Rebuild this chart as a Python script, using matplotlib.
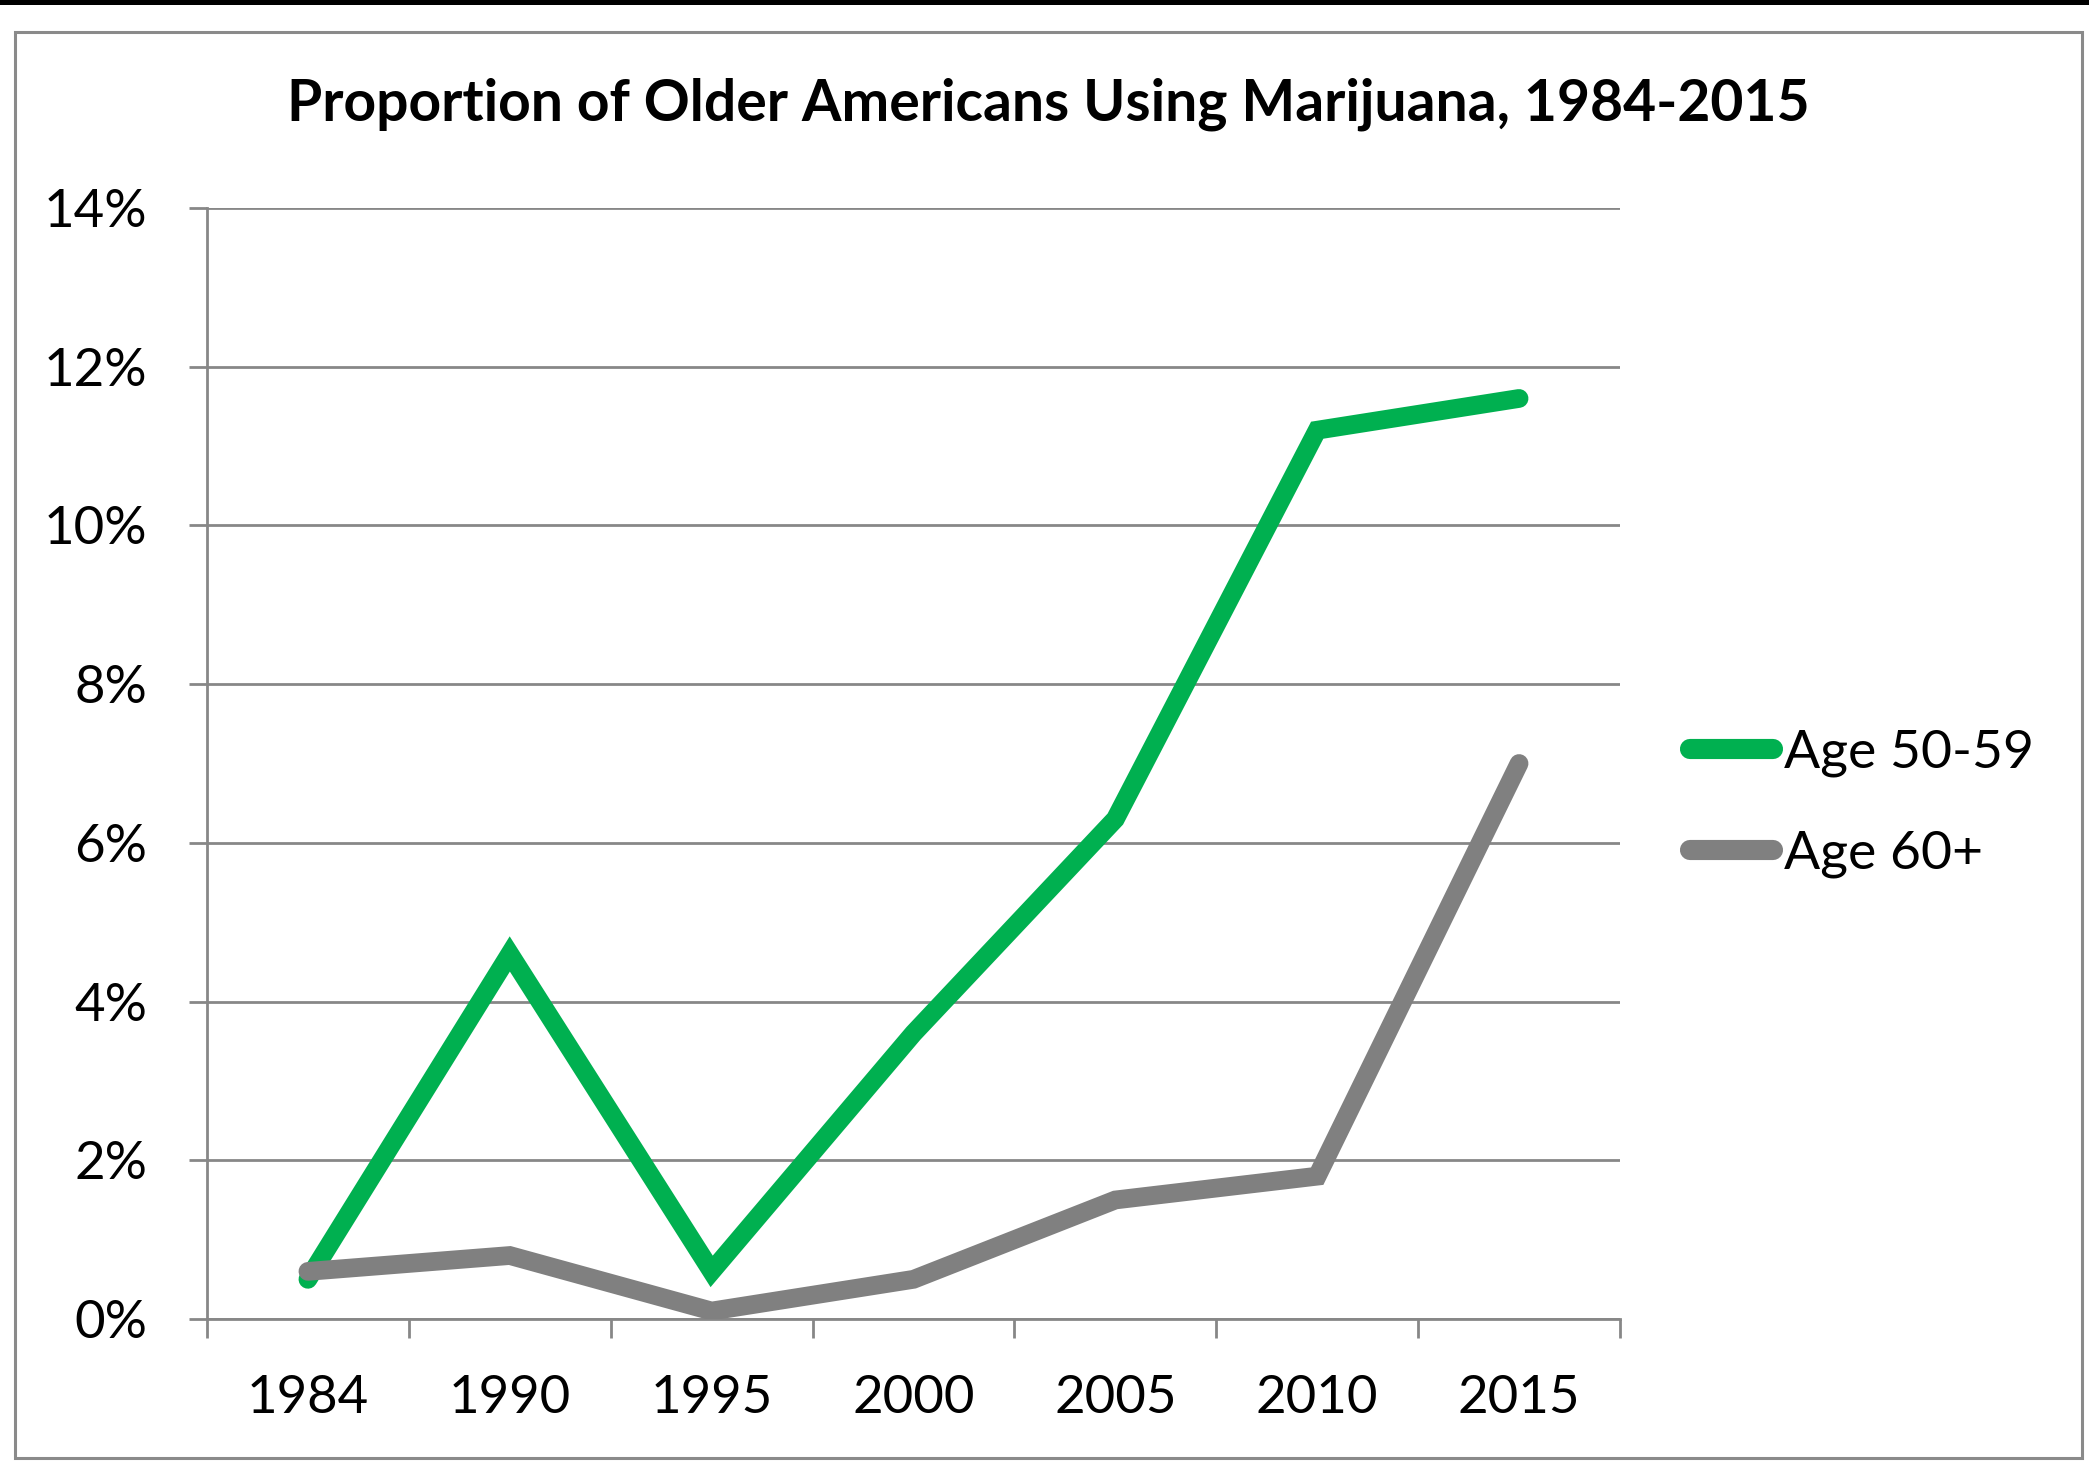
import matplotlib
matplotlib.use("Agg")
import matplotlib.pyplot as plt
from matplotlib.patches import Rectangle
from matplotlib.ticker import FuncFormatter, FixedLocator

years = ["1984", "1990", "1995", "2000", "2005", "2010", "2015"]
age_50_59 = [0.5, 4.6, 0.6, 3.6, 6.3, 11.2, 11.6]
age_60_plus = [0.6, 0.8, 0.1, 0.5, 1.5, 1.8, 7.0]
yticks = [0, 2, 4, 6, 8, 10, 12, 14]

plt.rcParams['font.family'] = ['Lato', 'DejaVu Sans']

W, H = 2089, 1461
fig = plt.figure(figsize=(W / 100, H / 100), dpi=100)

# outer frame + black strip at top
fig.patches.append(Rectangle((0, 1 - 5 / H), 1, 5 / H, transform=fig.transFigure,
                             facecolor="black", edgecolor="none"))
fig.patches.append(Rectangle((15 / W, 1 - 1458 / H), (2082 - 15) / W, (1458 - 32) / H,
                             transform=fig.transFigure, facecolor="none",
                             edgecolor="#8a8a8a", linewidth=2.2))

ax = fig.add_axes([207 / W, (H - 1319) / H, (1620 - 207) / W, (1319 - 208) / H])

x = list(range(len(years)))
gridc = "#878787"
ax.plot(x, age_50_59, color="#00b050", lw=13.5, solid_capstyle="round",
        solid_joinstyle="miter", label="Age 50-59", zorder=3)
ax.plot(x, age_60_plus, color="#808080", lw=13.5, solid_capstyle="round",
        solid_joinstyle="miter", label="Age 60+", zorder=4)

ax.set_xlim(-0.5, len(years) - 0.5)
ax.set_ylim(0, 14)
ax.set_yticks(yticks)
ax.yaxis.set_major_formatter(FuncFormatter(lambda v, p: "%d%%" % v))
ax.yaxis.grid(True, color=gridc, lw=2.0)
ax.set_axisbelow(True)

# category boundaries as tick marks, labels centered
ax.xaxis.set_major_locator(FixedLocator([i - 0.5 for i in range(len(years) + 1)]))
ax.xaxis.set_minor_locator(FixedLocator(x))
ax.set_xticklabels([])
ax.set_xticklabels(years, minor=True)
ax.tick_params(axis="x", which="major", length=13.5, width=2.0, color=gridc)
ax.tick_params(axis="x", which="minor", length=0, pad=40, labelsize=38)
ax.tick_params(axis="y", length=13, width=2.0, color=gridc, pad=30, labelsize=38)

for s in ["top", "right"]:
    ax.spines[s].set_visible(False)
ax.spines["left"].set_color(gridc)
ax.spines["left"].set_linewidth(2.0)
ax.spines["bottom"].set_color(gridc)
ax.spines["bottom"].set_linewidth(2.0)

fig.text(1048 / W, 1 - 104 / H, "Proportion of Older Americans Using Marijuana, 1984-2015",
         ha="center", va="center", fontsize=41, fontweight="bold")

leg = ax.legend(loc="center left", bbox_to_anchor=(1690 / W, 1 - 804 / H),
                bbox_transform=fig.transFigure, frameon=False, fontsize=38.5,
                handlelength=1.55, handletextpad=0.2, labelspacing=1.0,
                borderpad=0, borderaxespad=0)
for h in leg.get_lines():
    h.set_linewidth(14.5)
    h.set_solid_capstyle("round")

fig.savefig("out.png", dpi=100, facecolor="white")
